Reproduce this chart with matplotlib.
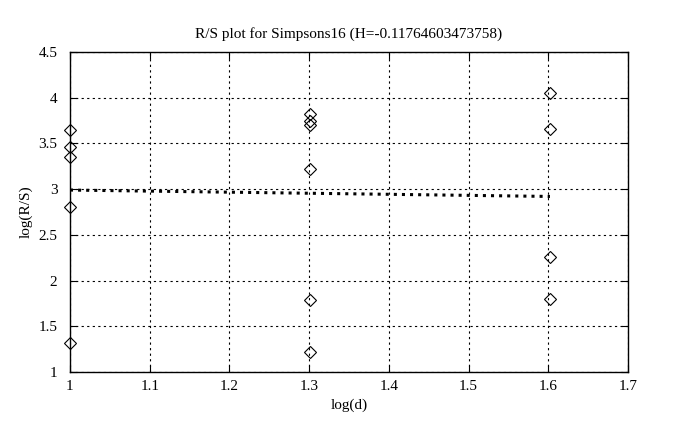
import matplotlib
matplotlib.use('Agg')
import matplotlib.pyplot as plt

# data
x_pts = [1.0, 1.0, 1.0, 1.0, 1.0,
         1.30103, 1.30103, 1.30103, 1.30103, 1.30103, 1.30103,
         1.60206, 1.60206, 1.60206, 1.60206]
y_pts = [3.65, 3.46, 3.35, 2.80, 1.32,
         3.82, 3.75, 3.70, 3.22, 1.79, 1.22,
         4.05, 3.66, 2.26, 1.80]
fit_x = [1.0, 1.60206]
fit_y = [2.99, 2.92]
xticks = [1, 1.1, 1.2, 1.3, 1.4, 1.5, 1.6, 1.7]
yticks = [1, 1.5, 2, 2.5, 3, 3.5, 4, 4.5]
xlabels = ['1', '1.1', '1.2', '1.3', '1.4', '1.5', '1.6', '1.7']
ylabels = ['1', '1.5', '2', '2.5', '3', '3.5', '4', '4.5']

plt.rcParams['font.family'] = ['Liberation Serif', 'DejaVu Serif']
fig = plt.figure(figsize=(6.86, 4.30), dpi=100)
ax = fig.add_axes([0.102, 0.135, 0.8135, 0.744])
ax.plot(x_pts, y_pts, 'D', mfc='none', mec='k', ms=6, mew=0.8, clip_on=False, zorder=3)
ax.plot(fit_x, fit_y, ':', color='k', lw=2.2)
ax.set_xlim(1, 1.7); ax.set_ylim(1, 4.5)
ax.set_xticks(xticks); ax.set_xticklabels(xlabels)
ax.set_yticks(yticks); ax.set_yticklabels(ylabels)
ax.tick_params(direction='in', top=True, right=True, labelsize=11, length=5)
ax.tick_params(axis='y', pad=9)
ax.tick_params(axis='x', pad=6)
ax.grid(True, ls=(0, (2, 3)), color='k', lw=0.8)
for s in ax.spines.values():
    s.set_linewidth(1.0)
ax.set_xlabel('log(d)', fontsize=11)
ax.set_ylabel('log(R/S)', fontsize=11)
ax.set_title('R/S plot for Simpsons16 (H=-0.11764603473758)', fontsize=11, pad=10)
fig.savefig('out.png', dpi=100)
